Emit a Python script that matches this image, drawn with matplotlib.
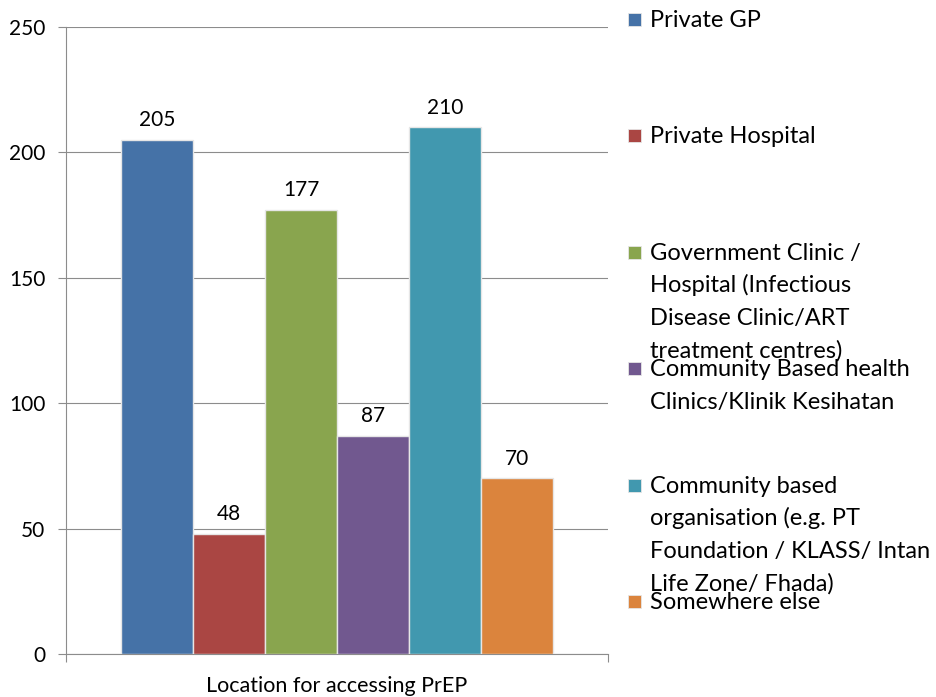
import matplotlib
matplotlib.use("Agg")
import matplotlib.pyplot as plt
from matplotlib.patches import Rectangle

plt.rcParams['font.family'] = ['Lato', 'DejaVu Sans']

# data
series = ["Private GP",
          "Private Hospital",
          "Government Clinic /\nHospital (Infectious\nDisease Clinic/ART\ntreatment centres)",
          "Community Based health\nClinics/Klinik Kesihatan",
          "Community based\norganisation (e.g. PT\nFoundation / KLASS/ Intan\nLife Zone/ Fhada)",
          "Somewhere else"]
values = [205, 48, 177, 87, 210, 70]
colors = ["#4572A7", "#AA4643", "#89A54E", "#71588F", "#4198AF", "#DB843D"]
category = "Location for accessing PrEP"
yticks = [0, 50, 100, 150, 200, 250]

W, H = 936, 697
fig = plt.figure(figsize=(W / 100, H / 100), dpi=100)
ax = fig.add_axes([66 / W, 1 - 654 / H, (608 - 66) / W, (654 - 27) / H])

n = len(values)
group = 0.797
bw = group / n
for i, (v, c) in enumerate(zip(values, colors)):
    x = -group / 2 + bw * (i + 0.5)
    ax.bar(x, v, width=bw, color=c, edgecolor="#e6e6e6", linewidth=1, zorder=3)
    ax.annotate(str(v), (x, v), xytext=(0, 7), textcoords="offset points",
                ha="center", va="bottom", fontsize=15, color="black")

ax.set_xlim(-0.5, 0.5)
ax.set_ylim(0, 250)
ax.set_yticks(yticks)
ax.yaxis.grid(True, color="#8c8c8c", linewidth=0.8, zorder=0)
ax.set_xticks([0])
ax.set_xticklabels([category], fontsize=15.5)
ax.set_xticks([-0.5, 0.5], minor=True)
ax.tick_params(axis="x", which="major", length=0, pad=16)
ax.tick_params(axis="x", which="minor", length=6, color="#8c8c8c", width=0.8)
ax.tick_params(axis="y", length=6, color="#8c8c8c", width=0.8, pad=9, labelsize=15)
for s in ["top", "right"]:
    ax.spines[s].set_visible(False)
for s in ["left", "bottom"]:
    ax.spines[s].set_color("#8c8c8c")
    ax.spines[s].set_linewidth(0.8)

# legend drawn by hand to keep the fixed spacing of the original
base0 = 27
pitch = 116.4
line_h = 32.5
for i, (lab, c) in enumerate(zip(series, colors)):
    b = base0 + i * pitch
    fig.add_artist(Rectangle((628 / W, 1 - (b - 1) / H), 13 / W, 13 / H,
                             transform=fig.transFigure, facecolor=c,
                             edgecolor="#e6e6e6", linewidth=0.6))
    for j, line in enumerate(lab.split("\n")):
        fig.text(650 / W, 1 - (b + j * line_h) / H, line, fontsize=17,
                 ha="left", va="baseline", color="black")

fig.savefig("out.png", dpi=100)
